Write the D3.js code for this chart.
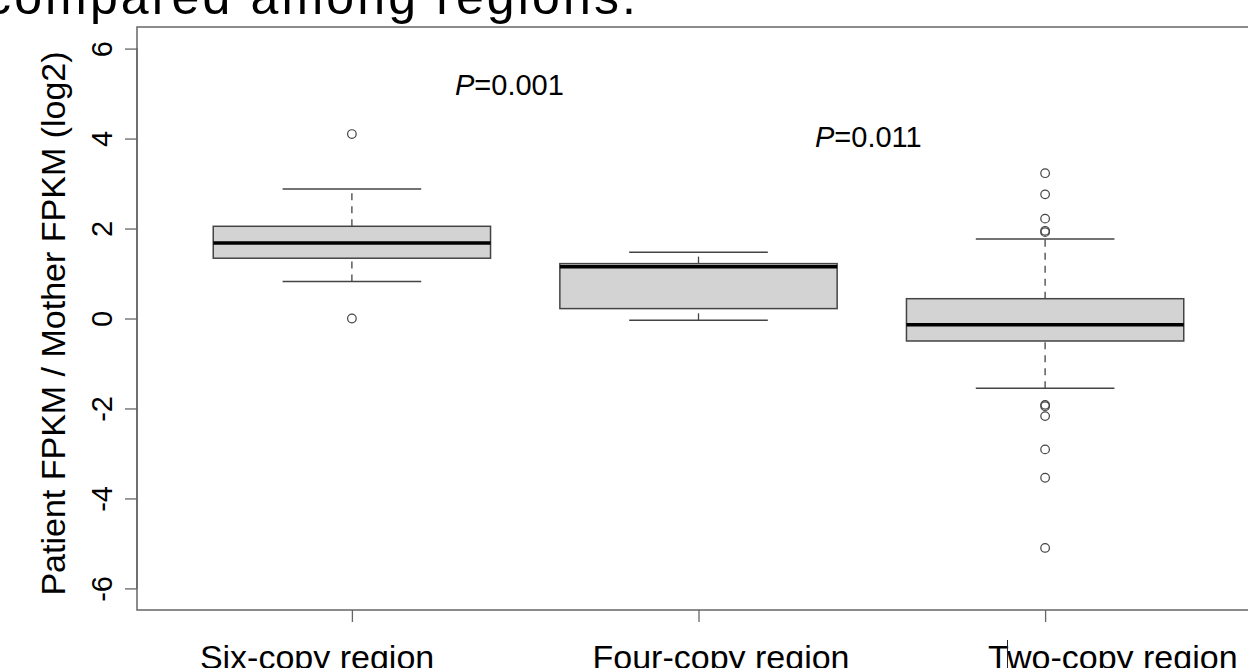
<!DOCTYPE html>
<html>
<head>
<meta charset="utf-8">
<script src="https://cdn.jsdelivr.net/npm/d3@7"></script>
<style>
  html, body { margin: 0; padding: 0; background: #fff; overflow: hidden; }
  text { font-family: "Liberation Sans", Arial, sans-serif; fill: #000; }
</style>
</head>
<body>
<div id="chart"></div>
<script>
const categories = ['Six-copy region', 'Four-copy region', 'Two-copy region'];
const whiskerLow = [0.82, -0.04, -1.55];
const q1 = [1.34, 0.22, -0.50];
const median = [1.68, 1.15, -0.14];
const q3 = [2.05, 1.22, 0.44];
const whiskerHigh = [2.88, 1.47, 1.77];
const outliers = [
  [4.10, 0.00],
  [],
  [3.23, 2.76, 2.22, 1.95, 1.92, -1.92, -1.95, -2.17, -2.91, -3.54, -5.10]
];
const yTicks = [-6, -4, -2, 0, 2, 4, 6];
const pValues = ['0.001', '0.011'];

const width = 1248;
const height = 668;

const svg = d3.select('#chart')
  .append('svg')
  .attr('width', width)
  .attr('height', height);

// R-style ranges: x in [0.5, 3.5], y in [-6, 6], both widened by 4%
const x = d3.scaleLinear().domain([0.38, 3.62]).range([137, 1260]);
const y = d3.scaleLinear().domain([-6.48, 6.48]).range([610, 27]);

const unit = x(2) - x(1);
const halfBox = unit * 0.4;
const halfStaple = halfBox * 0.5;
const stroke = '#444';

// slide title, cut at the top
svg.append('text')
  .attr('x', -14)
  .attr('y', 14)
  .attr('textLength', 650)
  .style('font-size', '50px')
  .text('compared among regions.');

// plot frame
svg.append('rect')
  .attr('x', x.range()[0])
  .attr('y', y.range()[1])
  .attr('width', x.range()[1] - x.range()[0])
  .attr('height', y.range()[0] - y.range()[1])
  .attr('fill', 'none')
  .attr('stroke', '#666')
  .attr('stroke-width', 1.5);

// y axis
const yAxis = svg.append('g')
  .attr('transform', `translate(${x.range()[0]},0)`)
  .call(d3.axisLeft(y).tickValues(yTicks).tickSize(12).tickFormat((d) => String(d)));
yAxis.select('.domain').attr('stroke', '#666').attr('stroke-width', 1.5)
  .attr('d', `M0,${y(-6)}V${y(6)}`);
yAxis.selectAll('.tick line').attr('stroke', '#666').attr('stroke-width', 1.3);
yAxis.selectAll('.tick text')
  .attr('x', null).attr('dy', null)
  .attr('text-anchor', 'middle')
  .attr('transform', 'translate(-25,0) rotate(-90)')
  .style('font-family', '"Liberation Sans", Arial, sans-serif')
  .style('font-size', '29px')
  .attr('fill', '#000');

// x axis ticks
const xAxis = svg.append('g')
  .attr('transform', `translate(0,${y.range()[0]})`)
  .call(d3.axisBottom(x).tickValues([1, 2, 3]).tickSize(12).tickFormat(''));
xAxis.select('.domain').remove();
xAxis.selectAll('.tick line').attr('stroke', '#666').attr('stroke-width', 1.3);

// y axis title
svg.append('text')
  .attr('transform', `translate(65,${(y.range()[0] + y.range()[1]) / 2 + 5}) rotate(-90)`)
  .attr('text-anchor', 'middle')
  .style('font-size', '34px')
  .text('Patient FPKM / Mother FPKM (log2)');

// category labels (text boxes on the slide, not centred on the ticks)
const labelShift = [-152, -106, -57];
svg.selectAll('.cat-label')
  .data(categories)
  .enter()
  .append('text')
  .attr('class', 'cat-label')
  .attr('x', (d, i) => x(i + 1) + labelShift[i])
  .attr('y', 669)
  .style('font-size', '34px')
  .text((d) => d);

// boxes
const box = svg.selectAll('.box')
  .data(categories)
  .enter()
  .append('g')
  .attr('class', 'box');

box.append('line')
  .attr('x1', (d, i) => x(i + 1)).attr('x2', (d, i) => x(i + 1))
  .attr('y1', (d, i) => y(q3[i])).attr('y2', (d, i) => y(whiskerHigh[i]))
  .attr('stroke', stroke).attr('stroke-width', 1.3).attr('stroke-dasharray', '7,6');

box.append('line')
  .attr('x1', (d, i) => x(i + 1)).attr('x2', (d, i) => x(i + 1))
  .attr('y1', (d, i) => y(whiskerLow[i])).attr('y2', (d, i) => y(q1[i]))
  .attr('stroke', stroke).attr('stroke-width', 1.3).attr('stroke-dasharray', '7,6');

box.append('line')
  .attr('x1', (d, i) => x(i + 1) - halfStaple).attr('x2', (d, i) => x(i + 1) + halfStaple)
  .attr('y1', (d, i) => y(whiskerHigh[i])).attr('y2', (d, i) => y(whiskerHigh[i]))
  .attr('stroke', stroke).attr('stroke-width', 1.5);

box.append('line')
  .attr('x1', (d, i) => x(i + 1) - halfStaple).attr('x2', (d, i) => x(i + 1) + halfStaple)
  .attr('y1', (d, i) => y(whiskerLow[i])).attr('y2', (d, i) => y(whiskerLow[i]))
  .attr('stroke', stroke).attr('stroke-width', 1.5);

box.append('rect')
  .attr('x', (d, i) => x(i + 1) - halfBox)
  .attr('y', (d, i) => y(q3[i]))
  .attr('width', halfBox * 2)
  .attr('height', (d, i) => y(q1[i]) - y(q3[i]))
  .attr('fill', '#d3d3d3')
  .attr('stroke', stroke)
  .attr('stroke-width', 1.5);

box.append('line')
  .attr('x1', (d, i) => x(i + 1) - halfBox).attr('x2', (d, i) => x(i + 1) + halfBox)
  .attr('y1', (d, i) => y(median[i])).attr('y2', (d, i) => y(median[i]))
  .attr('stroke', '#000').attr('stroke-width', 3.5);

box.selectAll('circle')
  .data((d, i) => outliers[i].map((v) => ({ i: i, v: v })))
  .enter()
  .append('circle')
  .attr('cx', (d) => x(d.i + 1))
  .attr('cy', (d) => y(d.v))
  .attr('r', 4.3)
  .attr('fill', 'none')
  .attr('stroke', stroke)
  .attr('stroke-width', 1.2);

// p-value annotations
const pPos = [[455, 95], [815, 147]];
const pText = svg.selectAll('.pval')
  .data(pValues)
  .enter()
  .append('text')
  .attr('class', 'pval')
  .attr('x', (d, i) => pPos[i][0])
  .attr('y', (d, i) => pPos[i][1])
  .style('font-size', '29px');
pText.append('tspan').style('font-style', 'italic').text('P');
pText.append('tspan').text((d) => '=' + d);

// text cursor left on the slide
svg.append('line')
  .attr('x1', 1007.5).attr('x2', 1007.5)
  .attr('y1', 640).attr('y2', 668)
  .attr('stroke', '#223').attr('stroke-width', 1);
</script>
</body>
</html>
